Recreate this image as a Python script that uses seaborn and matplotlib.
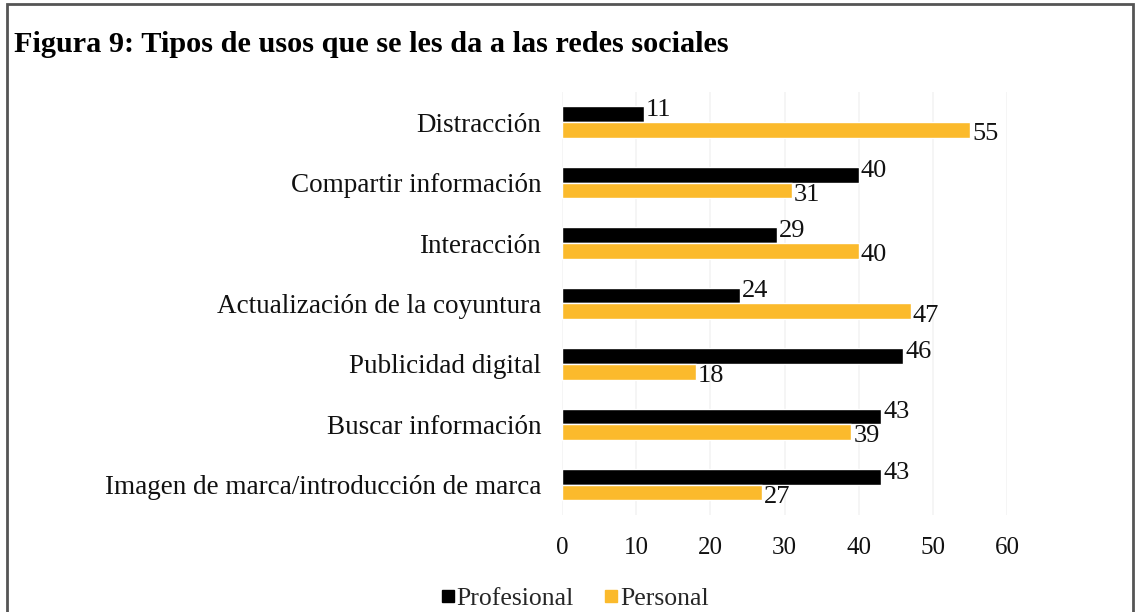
import matplotlib
matplotlib.use("Agg")
import matplotlib.pyplot as plt
from matplotlib.patches import Rectangle
from matplotlib.lines import Line2D
import seaborn as sns
import pandas as pd

categories = [
    "Distracción",
    "Compartir información",
    "Interacción",
    "Actualización de la coyuntura",
    "Publicidad digital",
    "Buscar información",
    "Imagen de marca/introducción de marca",
]
profesional = [11, 40, 29, 24, 46, 43, 43]
personal = [55, 31, 40, 47, 18, 39, 27]
series_names = ["Profesional", "Personal"]
x_ticks = [0, 10, 20, 30, 40, 50, 60]
title = "Figura 9: Tipos de usos que se les da a las redes sociales"

colors = {"Profesional": "#000000", "Personal": "#FBBA2C"}

df = pd.DataFrame({
    "categoria": categories * 2,
    "valor": profesional + personal,
    "serie": [series_names[0]] * len(categories) + [series_names[1]] * len(categories),
})

sns.set_theme(style="white")
plt.rcParams["font.family"] = ["Liberation Serif", "DejaVu Serif"]

fig = plt.figure(figsize=(11.36, 6.12), dpi=100)
ax = fig.add_axes([0.4947, 0.1585, 0.3918, 0.6912])

sns.barplot(
    data=df, x="valor", y="categoria", hue="serie", order=categories,
    hue_order=series_names, palette=colors, orient="h", width=0.52,
    saturation=1, ax=ax, legend=False,
)

# value labels at the end of each bar
for container, dy in zip(ax.containers, [3, -3]):
    for bar in container:
        w = bar.get_width()
        yc = bar.get_y() + bar.get_height() / 2
        ax.annotate(f"{w:.0f}", xy=(w, yc), xytext=(1.5, dy),
                    textcoords="offset points", ha="left", va="center",
                    fontsize=19, color="#111111")

ax.set_xlim(0, 60)
ax.set_xticks(x_ticks)
ax.set_xticklabels([str(t) for t in x_ticks])
ax.tick_params(axis="x", labelsize=18, pad=16, length=0, colors="#111111")
ax.tick_params(axis="y", labelsize=19.5, pad=15, length=0, colors="#111111")
ax.set_xlabel("")
ax.set_ylabel("")
for s in ax.spines.values():
    s.set_visible(False)
ax.xaxis.grid(True, color="#f3f3f3", linewidth=1.2)
ax.set_axisbelow(True)

# legend below the plot
handles = [
    Line2D([], [], marker="s", linestyle="", markersize=8,
           color=colors[n], label=n) for n in series_names
]
fig.legend(handles=handles, loc="center", bbox_to_anchor=(0.505, 0.022),
           ncol=2, frameon=False, fontsize=18.5, handletextpad=0.0,
           columnspacing=1.1, handlelength=0.7)

fig.text(0.012, 0.928, title, fontsize=21.8, fontweight="bold",
         ha="left", va="center", color="#000000")

# frame around the whole figure
fig.patches.append(Rectangle((0.006, -0.05), 0.991, 1.043,
                             transform=fig.transFigure, fill=False,
                             edgecolor="#555555", linewidth=2))

fig.savefig("out.png", dpi=100)
